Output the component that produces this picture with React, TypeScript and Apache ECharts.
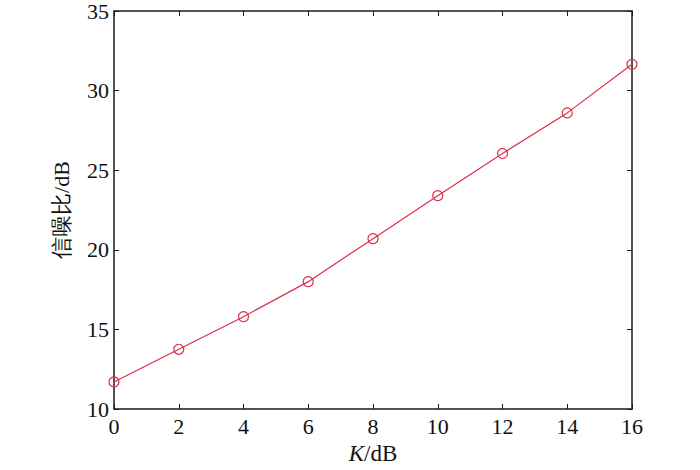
import React, { useEffect, useRef } from "react";
import * as echarts from "echarts";

const kValues = [0, 2, 4, 6, 8, 10, 12, 14, 16];
const snrValues = [11.7, 13.75, 15.8, 18.0, 20.7, 23.4, 26.05, 28.6, 31.65];

const FONT = "Liberation Serif";
const AXIS_COLOR = "#1a1a1a";
const LINE_COLOR = "#dc2f4b";

export default function App() {
  const ref = useRef<HTMLDivElement>(null);
  useEffect(() => {
    if (!ref.current) return;
    const chart = echarts.init(ref.current, undefined, { renderer: "svg" });
    const axisLine = { show: true, onZero: false, lineStyle: { color: AXIS_COLOR, width: 1.5 } };
    const axisTick = { show: true, inside: true, length: 5, lineStyle: { color: AXIS_COLOR, width: 1 } };
    chart.setOption({
      animation: false,
      backgroundColor: "#ffffff",
      grid: { left: 114, right: 68, top: 10, bottom: 55, containLabel: false },
      xAxis: [
        {
          type: "value",
          min: 0,
          max: 16,
          interval: 2,
          position: "bottom",
          name: "{i|K}/dB",
          nameLocation: "middle",
          nameGap: 33,
          nameTextStyle: {
            fontFamily: FONT,
            fontSize: 23,
            color: "#111",
            rich: { i: { fontFamily: FONT, fontSize: 23, fontStyle: "italic", color: "#111" } },
          },
          axisLine,
          axisTick,
          splitLine: { show: false },
          axisLabel: { fontFamily: FONT, fontSize: 22, color: "#111", margin: 6 },
        },
        {
          type: "value",
          min: 0,
          max: 16,
          interval: 2,
          position: "top",
          axisLine,
          axisTick,
          splitLine: { show: false },
          axisLabel: { show: false },
        },
      ],
      yAxis: [
        {
          type: "value",
          min: 10,
          max: 35,
          interval: 5,
          position: "left",
          name: "信噪比/dB",
          nameLocation: "middle",
          nameGap: 42,
          nameTextStyle: { fontFamily: FONT, fontSize: 22, color: "#111" },
          axisLine,
          axisTick,
          splitLine: { show: false },
          axisLabel: { fontFamily: FONT, fontSize: 22, color: "#111", margin: 5 },
        },
        {
          type: "value",
          min: 10,
          max: 35,
          interval: 5,
          position: "right",
          axisLine,
          axisTick,
          splitLine: { show: false },
          axisLabel: { show: false },
        },
      ],
      series: [
        {
          type: "line",
          xAxisIndex: 0,
          yAxisIndex: 0,
          data: kValues.map((k, i) => [k, snrValues[i]]),
          smooth: false,
          symbol: "circle",
          symbolSize: 10,
          lineStyle: { color: LINE_COLOR, width: 1.2 },
          itemStyle: { color: "rgba(0,0,0,0)", borderColor: LINE_COLOR, borderWidth: 1.2 },
        },
      ],
    });
    return () => chart.dispose();
  }, []);
  return (
    <div
      ref={ref}
      style={{ position: "absolute", left: 0, top: 0, width: 700, height: 470 }}
    />
  );
}
